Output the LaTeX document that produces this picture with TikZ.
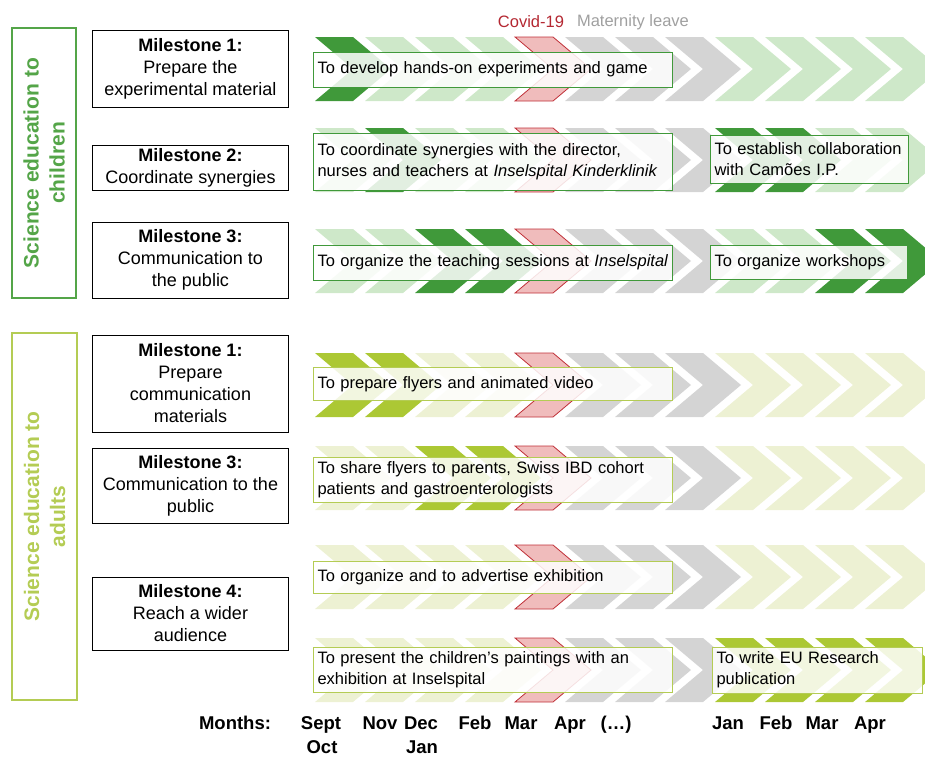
\documentclass[tikz,border=0pt]{standalone}
\usepackage{fontspec}
\setmainfont{Liberation Sans}

\definecolor{darkgreen}{RGB}{64,153,58}
\definecolor{palegreen}{RGB}{206,232,201}
\definecolor{leavegray}{RGB}{212,212,212}
\definecolor{covidpink}{RGB}{240,188,188}
\definecolor{covidred}{RGB}{192,48,56}
\definecolor{limegreen}{RGB}{172,200,52}
\definecolor{palelime}{RGB}{237,241,211}
\definecolor{catgreen}{RGB}{84,165,72}
\definecolor{catlime}{RGB}{180,204,84}
\definecolor{covidtext}{RGB}{180,40,50}
\definecolor{leavetext}{RGB}{160,160,160}

% one chevron: start x, centre y, style
\newcommand{\drawchev}[3]{%
  \path[#3] ({#1},{#2-32}) -- ++(38,0) -- ++(38,32) -- ++(-38,32) -- ++(-38,0) -- ++(38,-32) -- cycle;}
% one row of chevrons: centre y, list of styles
\newcommand{\chevrow}[2]{%
  \foreach \st [count=\i from 0] in {#2} {\drawchev{315+50*\i}{#1}{\st}}}

\tikzset{
  chevdark/.style={fill=darkgreen},
  chevlight/.style={fill=palegreen},
  chevgray/.style={fill=leavegray},
  chevcovid/.style={fill=covidpink, draw=covidred, line width=0.8pt},
  chevlime/.style={fill=limegreen},
  chevpale/.style={fill=palelime},
  milestone/.style={draw, line width=0.8pt, minimum width=196pt, align=center, inner sep=2pt,
    font=\fontsize{18}{22}\selectfont},
  task/.style={draw, line width=1pt, fill=white, fill opacity=0.85, text opacity=1, anchor=west,
    align=left, inner xsep=4pt, inner ysep=2pt, font=\fontsize{16.5}{21}\selectfont},
  taskchild/.style={task, draw=darkgreen},
  taskadult/.style={task, draw=catlime},
  category/.style={draw, line width=2.5pt, rotate=90, align=center, inner sep=0pt,
    font=\fontsize{21}{26}\selectfont\bfseries},
  monthlbl/.style={inner sep=0pt, text height=13.5pt, text depth=0pt, font=\fontsize{18.5}{24}\selectfont\bfseries}
}

\begin{document}
\begin{tikzpicture}[x=1pt, y=-1pt]
\useasboundingbox (0,0) rectangle (925,756);

% Chevrons (time line)
\begin{scope}
\clip (0,0) rectangle (925,756);
\chevrow{69}{chevdark,chevlight,chevlight,chevlight,chevcovid,chevgray,chevgray,chevgray,chevlight,chevlight,chevlight,chevlight}
\chevrow{160}{chevlight,chevdark,chevlight,chevlight,chevcovid,chevgray,chevgray,chevgray,chevdark,chevdark,chevlight,chevlight}
\chevrow{261}{chevlight,chevlight,chevdark,chevdark,chevcovid,chevgray,chevgray,chevgray,chevlight,chevlight,chevdark,chevdark}
\chevrow{385}{chevlime,chevlime,chevpale,chevpale,chevcovid,chevgray,chevgray,chevgray,chevpale,chevpale,chevpale,chevpale}
\chevrow{478}{chevpale,chevpale,chevlime,chevlime,chevcovid,chevgray,chevgray,chevgray,chevpale,chevpale,chevpale,chevpale}
\chevrow{577}{chevpale,chevpale,chevpale,chevpale,chevcovid,chevgray,chevgray,chevgray,chevpale,chevpale,chevpale,chevpale}
\chevrow{670}{chevpale,chevpale,chevpale,chevpale,chevcovid,chevgray,chevgray,chevgray,chevlime,chevlime,chevlime,chevlime}
\end{scope}

% Header
\node[text=covidtext, font=\fontsize{16.5}{20}\selectfont] (covid) at (531,22) {Covid-19};
\node[text=leavetext, font=\fontsize{16.5}{20}\selectfont] (leave) at (633,22) {Maternity leave};

% Categories
\node[category, draw=catgreen, text=catgreen, minimum width=270pt, minimum height=64pt] (catchild) at (44,163)
  {Science education to\\children};
\node[category, draw=catlime, text=catlime, minimum width=367pt, minimum height=65pt] (catadult) at (44.5,516.5)
  {Science education to\\adults};

% Milestones
\node[milestone, minimum height=77pt] (ms1c) at (190.5,68.5) {\textbf{Milestone 1:}\\Prepare the\\experimental material};
\node[milestone, minimum height=45pt] (ms2c) at (190.5,167.5) {\textbf{Milestone 2:}\\Coordinate synergies};
\node[milestone, minimum height=76pt] (ms3c) at (190.5,260) {\textbf{Milestone 3:}\\Communication to\\the public};
\node[milestone, minimum height=97pt] (ms1a) at (190.5,383.5) {\textbf{Milestone 1:}\\Prepare\\communication\\materials};
\node[milestone, minimum height=75pt] (ms3a) at (190.5,485.5) {\textbf{Milestone 3:}\\Communication to the\\public};
\node[milestone, minimum height=73pt] (ms4a) at (190.5,613.5) {\textbf{Milestone 4:}\\Reach a wider\\audience};

% Tasks
\node[taskchild, text width=351pt, minimum height=35pt] (taskexp) at (313,69.5) {To develop hands-on experiments and game};
\node[taskchild, text width=351pt, minimum height=57pt] (tasksyn) at (313,161.5)
  {To coordinate synergies with the director,\\nurses and teachers at \textit{Inselspital Kinderklinik}};
\node[taskchild, text width=190pt, minimum height=48pt] (taskcam) at (710,159) {To establish collaboration\\with Camões I.P.};
\node[taskchild, text width=351pt, minimum height=35pt] (taskteach) at (313,262.5) {To organize the teaching sessions at \textit{Inselspital}};
\node[taskchild, text width=189pt, minimum height=34pt] (taskwork) at (710,262.5) {To organize workshops};
\node[taskadult, text width=351pt, minimum height=33pt] (taskflyer) at (313,384) {To prepare flyers and animated video};
\node[taskadult, text width=351pt, minimum height=45pt] (taskshare) at (313,480)
  {To share flyers to parents, Swiss IBD cohort\\patients and gastroenterologists};
\node[taskadult, text width=351pt, minimum height=32pt] (taskexhib) at (313,577.5) {To organize and to advertise exhibition};
\node[taskadult, text width=351pt, minimum height=45pt] (taskpaint) at (313,670)
  {To present the children’s paintings with an\\exhibition at Inselspital};
\node[taskadult, text width=202pt, minimum height=46pt] (taskeu) at (712,670) {To write EU Research\\publication};

% Months
\node[monthlbl] (months) at (235,723) {Months:};
\node[monthlbl] (msept) at (321,723) {Sept};
\node[monthlbl] (moct) at (322,747) {Oct};
\node[monthlbl] (mnov) at (380,723) {Nov};
\node[monthlbl] (mdec) at (421,723) {Dec};
\node[monthlbl] (mjanone) at (422,747) {Jan};
\node[monthlbl] (mfeb) at (475,723) {Feb};
\node[monthlbl] (mmar) at (521,723) {Mar};
\node[monthlbl] (mapr) at (570,723) {Apr};
\node[monthlbl] (mgap) at (616,723) {(…)};
\node[monthlbl] (mjan) at (728,723) {Jan};
\node[monthlbl] (mfebb) at (776,723) {Feb};
\node[monthlbl] (mmarb) at (822,723) {Mar};
\node[monthlbl] (maprb) at (870,723) {Apr};

\end{tikzpicture}
\end{document}
